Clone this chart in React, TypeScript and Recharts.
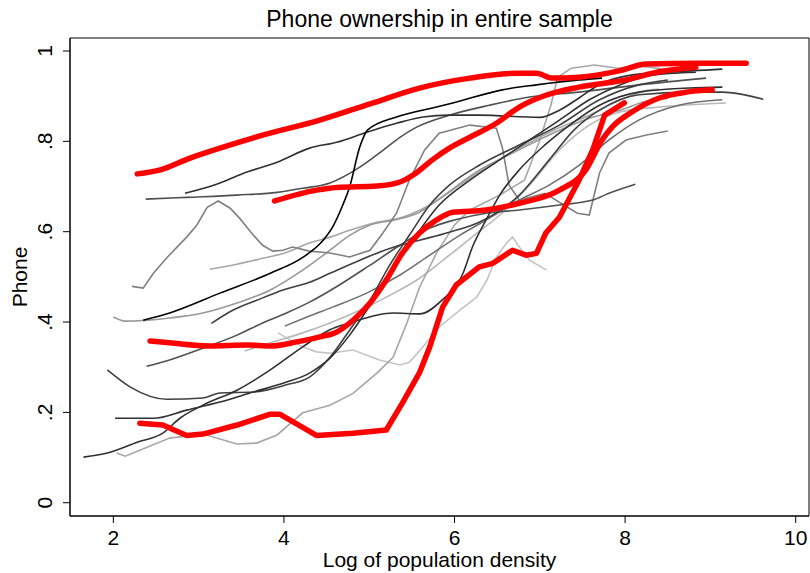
import { LineChart, Line, XAxis, YAxis, ReferenceArea } from 'recharts';

const FONT = '"Liberation Sans", Arial, Helvetica, sans-serif';

// plot window
const xDomain: [number, number] = [1.492, 10.156];
const yDomain: [number, number] = [-0.0294, 1.0288];
const xTicks = [2, 4, 6, 8, 10];
const yTicks = [0, 0.2, 0.4, 0.6, 0.8, 1];

type Pt = [number, number];

// red highlighted series (log density, share with phone)
const redTop: Pt[] = [[2.28, 0.728], [2.55, 0.737], [2.9, 0.763], [3.25, 0.785], [3.72, 0.812], [4.42, 0.847], [5.01, 0.883], [5.59, 0.918], [6.18, 0.94], [6.76, 0.951], [6.96, 0.951], [7.15, 0.94], [7.46, 0.942], [7.93, 0.956], [8.25, 0.971], [8.87, 0.973], [9.42, 0.973]];
const redMid: Pt[] = [[3.89, 0.668], [4.38, 0.692], [4.62, 0.698], [5.09, 0.701], [5.36, 0.71], [5.55, 0.73], [5.74, 0.759], [5.94, 0.785], [6.18, 0.809], [6.49, 0.84], [6.76, 0.876], [7.07, 0.902], [7.46, 0.92], [8.01, 0.936], [8.4, 0.954], [8.83, 0.964]];
const redLow: Pt[] = [[2.43, 0.358], [2.66, 0.354], [3.13, 0.347], [3.57, 0.349], [3.84, 0.347], [4.15, 0.356], [4.42, 0.367], [4.62, 0.378], [4.81, 0.404], [5.01, 0.442], [5.2, 0.493], [5.39, 0.553], [5.59, 0.597], [5.79, 0.626], [5.98, 0.643], [6.37, 0.648], [6.76, 0.663], [7.23, 0.692], [7.54, 0.737], [7.73, 0.803], [7.85, 0.832], [8.08, 0.865], [8.4, 0.896], [8.72, 0.909], [9.02, 0.914]];
const redBottom: Pt[] = [[2.31, 0.176], [2.58, 0.172], [2.86, 0.149], [3.05, 0.152], [3.45, 0.172], [3.84, 0.196], [3.95, 0.196], [4.22, 0.167], [4.38, 0.149], [4.81, 0.154], [5.2, 0.161], [5.39, 0.221], [5.59, 0.288], [5.71, 0.345], [5.86, 0.433], [6.02, 0.482], [6.29, 0.522], [6.45, 0.53], [6.68, 0.559], [6.84, 0.548], [6.96, 0.552], [7.07, 0.597], [7.23, 0.632], [7.46, 0.714], [7.62, 0.781], [7.7, 0.825], [7.76, 0.858], [7.99, 0.885]];

// gray background series
const grayA: Pt[] = [[2.35, 0.404], [2.66, 0.42], [3.25, 0.464], [3.84, 0.508], [4.22, 0.543], [4.46, 0.581], [4.57, 0.61], [4.69, 0.659], [4.77, 0.699], [4.89, 0.788], [4.98, 0.825], [5.32, 0.854], [5.74, 0.874], [5.98, 0.885], [6.56, 0.914], [6.96, 0.925], [7.46, 0.936], [7.73, 0.94]];
const grayB: Pt[] = [[2.84, 0.685], [3.21, 0.705], [3.52, 0.729], [3.92, 0.754], [4.3, 0.785], [4.62, 0.798], [4.97, 0.82], [5.32, 0.84], [5.63, 0.854], [5.94, 0.858], [6.29, 0.858], [7.0, 0.853], [7.23, 0.869], [7.46, 0.896], [7.7, 0.926], [8.05, 0.946], [8.51, 0.953], [9.14, 0.96]];
const grayC: Pt[] = [[2.38, 0.672], [2.86, 0.676], [3.45, 0.681], [3.92, 0.687], [4.22, 0.696], [4.54, 0.708], [4.89, 0.743], [5.16, 0.78], [5.36, 0.809], [5.55, 0.831], [5.94, 0.858], [6.41, 0.88], [6.88, 0.898], [7.46, 0.909], [8.16, 0.925], [8.95, 0.94]];
const grayD: Pt[] = [[2.22, 0.479], [2.35, 0.475], [2.47, 0.508], [2.63, 0.543], [2.86, 0.588], [2.98, 0.615], [3.1, 0.654], [3.23, 0.668], [3.37, 0.652], [3.48, 0.63], [3.62, 0.597], [3.75, 0.57], [3.87, 0.557], [3.99, 0.559], [4.1, 0.566], [4.3, 0.557], [4.54, 0.553], [4.77, 0.544], [5.01, 0.559], [5.16, 0.597], [5.32, 0.641], [5.47, 0.714], [5.65, 0.781], [5.82, 0.818], [6.18, 0.836], [6.49, 0.829], [6.56, 0.787], [6.64, 0.703], [6.76, 0.67], [7.06, 0.685], [7.44, 0.641], [7.58, 0.637], [7.7, 0.73], [7.81, 0.774], [8.01, 0.803], [8.25, 0.814], [8.5, 0.823]];
const grayE: Pt[] = [[3.13, 0.517], [3.45, 0.528], [3.75, 0.541], [4.03, 0.554], [4.3, 0.575], [4.54, 0.588], [4.77, 0.603], [5.09, 0.621], [5.36, 0.63], [5.71, 0.659], [6.06, 0.703], [6.41, 0.747], [6.76, 0.785], [7.17, 0.825], [7.58, 0.858], [7.94, 0.891], [8.29, 0.914], [8.4, 0.915]];
const grayF: Pt[] = [[2.0, 0.411], [2.14, 0.402], [2.66, 0.409], [3.05, 0.42], [3.45, 0.442], [3.84, 0.471], [4.22, 0.515], [4.54, 0.559], [4.77, 0.592], [5.01, 0.615], [5.3, 0.626], [5.59, 0.643], [5.88, 0.681], [6.29, 0.736], [6.64, 0.77], [7.11, 0.814], [7.58, 0.851], [7.94, 0.869], [8.29, 0.891], [8.5, 0.895]];
const grayG: Pt[] = [[1.93, 0.294], [2.2, 0.256], [2.63, 0.229], [3.05, 0.232], [3.25, 0.243], [3.64, 0.245], [4.03, 0.261], [4.3, 0.278], [4.54, 0.322], [4.77, 0.382], [5.01, 0.448], [5.24, 0.526], [5.47, 0.592], [5.71, 0.659], [5.94, 0.703], [6.29, 0.747], [6.76, 0.792], [7.23, 0.836], [7.7, 0.892], [8.16, 0.925], [8.5, 0.936]];
const grayH: Pt[] = [[2.02, 0.187], [2.47, 0.187], [2.86, 0.205], [3.25, 0.223], [3.64, 0.245], [4.03, 0.267], [4.3, 0.287], [4.54, 0.32], [4.77, 0.371], [5.01, 0.437], [5.24, 0.504], [5.51, 0.581], [5.82, 0.659], [6.18, 0.714], [6.53, 0.759], [6.88, 0.803], [7.23, 0.847], [7.58, 0.892], [7.94, 0.925], [8.29, 0.946], [8.83, 0.953]];
const grayI: Pt[] = [[1.65, 0.101], [1.93, 0.11], [2.28, 0.134], [2.58, 0.154], [2.78, 0.187], [3.05, 0.216], [3.45, 0.249], [3.84, 0.294], [4.22, 0.345], [4.54, 0.383], [4.77, 0.398], [5.28, 0.42], [5.59, 0.418], [5.85, 0.448], [6.1, 0.508], [6.21, 0.566], [6.37, 0.626], [6.53, 0.681], [6.76, 0.737], [7.06, 0.792], [7.35, 0.836], [7.7, 0.88], [8.16, 0.909], [8.75, 0.918], [9.14, 0.92]];
const grayJ: Pt[] = [[2.04, 0.11], [2.14, 0.103], [2.66, 0.143], [3.05, 0.152], [3.45, 0.13], [3.68, 0.132], [3.92, 0.15], [4.22, 0.199], [4.54, 0.216], [4.81, 0.242], [5.09, 0.287], [5.28, 0.322], [5.44, 0.397], [5.59, 0.477], [5.79, 0.553], [6.0, 0.615], [6.18, 0.648], [6.53, 0.681], [6.82, 0.714], [7.0, 0.803], [7.13, 0.88], [7.21, 0.942], [7.37, 0.962], [7.64, 0.969], [7.91, 0.962], [8.16, 0.967], [8.54, 0.958]];
const grayK: Pt[] = [[3.93, 0.376], [4.22, 0.345], [4.38, 0.334], [4.54, 0.331], [4.81, 0.338], [5.12, 0.316], [5.36, 0.305], [5.47, 0.311], [5.63, 0.345], [5.82, 0.389], [6.06, 0.426], [6.26, 0.455], [6.38, 0.493], [6.49, 0.543], [6.61, 0.575], [6.68, 0.588], [6.76, 0.566], [6.88, 0.537], [7.08, 0.515]];
const grayM: Pt[] = [[2.39, 0.302], [2.66, 0.316], [3.05, 0.342], [3.45, 0.371], [3.75, 0.398], [4.03, 0.42], [4.3, 0.444], [4.65, 0.482], [5.01, 0.526], [5.36, 0.57], [5.71, 0.608], [6.0, 0.626], [6.37, 0.641], [6.76, 0.648], [7.23, 0.659], [7.62, 0.67], [7.81, 0.685], [8.12, 0.705]];
const grayO: Pt[] = [[3.15, 0.397], [3.4, 0.426], [3.68, 0.448], [3.99, 0.471], [4.3, 0.488], [4.54, 0.508], [4.89, 0.537], [5.24, 0.563], [5.59, 0.581], [5.94, 0.599], [6.29, 0.621], [6.76, 0.681], [7.11, 0.759], [7.4, 0.825], [7.7, 0.869], [8.16, 0.903], [8.75, 0.909], [9.14, 0.909], [9.62, 0.893]];
const grayP: Pt[] = [[4.01, 0.391], [4.27, 0.411], [4.57, 0.433], [4.97, 0.464], [5.36, 0.504], [5.71, 0.548], [6.06, 0.592], [6.41, 0.63], [6.76, 0.67], [7.11, 0.703], [7.46, 0.747], [7.81, 0.803], [8.16, 0.847], [8.63, 0.88], [9.14, 0.892]];
const grayQ: Pt[] = [[3.54, 0.336], [3.84, 0.354], [4.22, 0.376], [4.54, 0.398], [4.89, 0.426], [5.24, 0.459], [5.59, 0.497], [5.94, 0.548], [6.23, 0.592], [6.53, 0.637], [6.88, 0.703], [7.23, 0.781], [7.58, 0.836], [7.94, 0.865], [8.4, 0.876], [9.18, 0.885]];

const grays: { pts: Pt[]; color: string; jagged?: boolean }[] = [
  { pts: grayK, color: '#c4c4c4', jagged: true },
  { pts: grayQ, color: '#b8b8b8' },
  { pts: grayJ, color: '#a6a6a6', jagged: true },
  { pts: grayE, color: '#a6a6a6' },
  { pts: grayF, color: '#999999' },
  { pts: grayD, color: '#808080', jagged: true },
  { pts: grayP, color: '#707070' },
  { pts: grayM, color: '#505050' },
  { pts: grayC, color: '#505050' },
  { pts: grayO, color: '#404040' },
  { pts: grayG, color: '#404040' },
  { pts: grayH, color: '#303030' },
  { pts: grayI, color: '#303030' },
  { pts: grayB, color: '#303030' },
  { pts: grayA, color: '#000000' },
];
const reds: { pts: Pt[]; jagged?: boolean }[] = [
  { pts: redBottom, jagged: true },
  { pts: redLow },
  { pts: redMid },
  { pts: redTop },
];

const toRows = (pts: Pt[]) => pts.map(([x, y]) => ({ x, y }));

const fmtY = (v: number) => (v === 0 || v === 1 ? String(v) : String(v).replace(/^0/, ''));

const XTick = (props: any) => {
  const { x, payload } = props;
  return (
    <text x={x} y={545} textAnchor="middle" fontSize={21} fontFamily={FONT} fill="#000">
      {payload.value}
    </text>
  );
};

const YTick = (props: any) => {
  const { y, payload } = props;
  const bx = 52;
  return (
    <text x={bx} y={y} transform={`rotate(-90, ${bx}, ${y})`} textAnchor="middle" fontSize={21} fontFamily={FONT} fill="#000">
      {fmtY(payload.value)}
    </text>
  );
};

export default function App() {
  return (
    <div style={{ position: 'relative', width: 810, height: 573, background: '#fff' }}>
      <style>{'body{margin:0}'}</style>
      <LineChart width={810} height={573} margin={{ top: 38, right: 1, bottom: 0, left: 0 }}>
        <XAxis
          dataKey="x"
          type="number"
          domain={xDomain}
          ticks={xTicks}
          allowDataOverflow
          height={57}
          tickSize={7}
          stroke="#000"
          tick={<XTick />}
        />
        <YAxis
          type="number"
          domain={yDomain}
          ticks={yTicks}
          allowDataOverflow
          width={70}
          tickSize={7}
          stroke="#000"
          tick={<YTick />}
        />
        <ReferenceArea x1={xDomain[0]} x2={xDomain[1]} y1={yDomain[0]} y2={yDomain[1]} fill="none" stroke="#000" strokeWidth={1} ifOverflow="visible" />
        {grays.map((g, i) => (
          <Line
            key={'g' + i}
            data={toRows(g.pts)}
            dataKey="y"
            type={g.jagged ? 'linear' : 'monotone'}
            stroke={g.color}
            strokeWidth={1.6}
            dot={false}
            activeDot={false}
            isAnimationActive={false}
          />
        ))}
        {reds.map((r, i) => (
          <Line
            key={'r' + i}
            data={toRows(r.pts)}
            dataKey="y"
            type={r.jagged ? 'linear' : 'monotone'}
            stroke="#ff0000"
            strokeWidth={5.5}
            strokeLinecap="round"
            strokeLinejoin="round"
            dot={false}
            activeDot={false}
            isAnimationActive={false}
          />
        ))}
      </LineChart>
      <svg width={810} height={573} style={{ position: 'absolute', left: 0, top: 0, pointerEvents: 'none' }}>
        <text x={439.5} y={27} textAnchor="middle" fontSize={23} fontFamily={FONT} fill="#000">
          Phone ownership in entire sample
        </text>
        <text x={439.5} y={567} textAnchor="middle" fontSize={21} fontFamily={FONT} fill="#000">
          Log of population density
        </text>
        <text x={27} y={277} transform="rotate(-90, 27, 277)" textAnchor="middle" fontSize={21} fontFamily={FONT} fill="#000">
          Phone
        </text>
      </svg>
    </div>
  );
}
